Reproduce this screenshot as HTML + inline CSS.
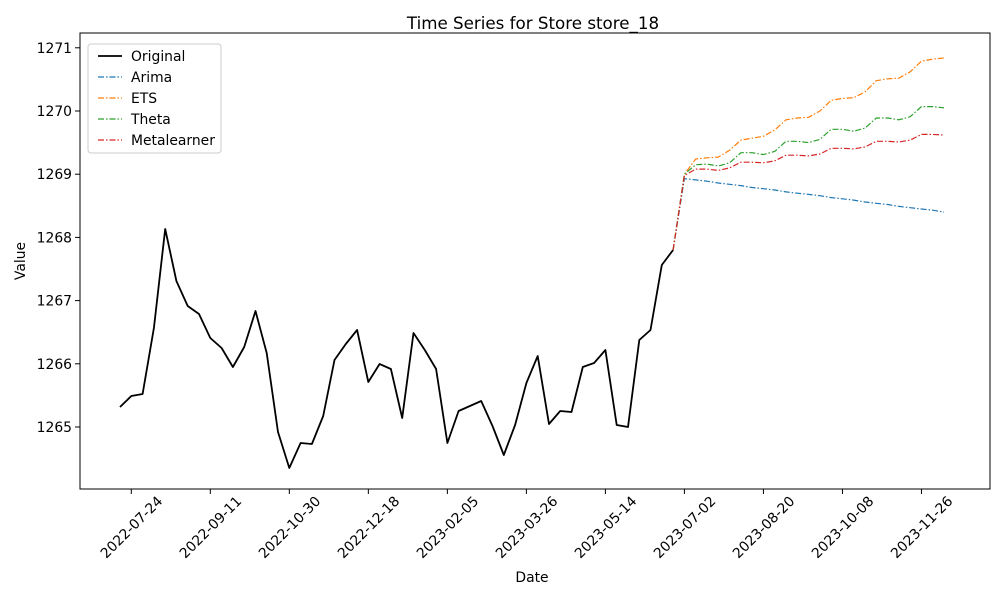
<!DOCTYPE html>
<html><head><meta charset="utf-8"><style>
body{margin:0;background:#fff;font-family:"DejaVu Sans",sans-serif}
svg text{font-family:"DejaVu Sans",sans-serif;fill:#000}
</style></head><body>
<svg id="chart" width="1000" height="600" viewBox="0 0 1000 600">
<rect x="0" y="0" width="1000" height="600" fill="#fff"/>
<text x="533" y="29" font-size="16.7" text-anchor="middle">Time Series for Store store_18</text>
<rect x="80" y="33" width="910" height="456" fill="none" stroke="#000" stroke-width="1"/>
<g id="xaxis"></g><g id="yaxis"></g><g id="series"></g>
<text x="532" y="582" font-size="13.9" text-anchor="middle">Date</text>
<text transform="translate(25,261) rotate(-90)" font-size="13.9" text-anchor="middle">Value</text>
<g>
<rect x="88" y="44" width="133" height="109" rx="3" fill="#fff" stroke="#ccc"/>
<g id="legend-items"></g>
</g>
</svg>
<script>
const originalValues=[];
const originalPx=[407,396,394,328,229,281,306,314,338,348,367,347,311,353,432,468,443,444,416,360,344,330,382,364,369,418,333,350,369,443,411,406,401,426,455,425,383,356,424,411,412,367,363,350,425,427,340,330,265,250];
// values
originalPx.forEach(p=>originalValues.push(+(1265+(427-p)/63.2).toFixed(3)));
const arimaValues=[1268.93,1268.91,1268.89,1268.86,1268.84,1268.82,1268.79,1268.77,1268.75,1268.72,1268.70,1268.68,1268.66,1268.63,1268.61,1268.59,1268.56,1268.54,1268.52,1268.49,1268.47,1268.45,1268.43,1268.40];
const etsValues=[1269.0,1269.24,1269.26,1269.27,1269.38,1269.54,1269.57,1269.6,1269.7,1269.86,1269.89,1269.9,1270.0,1270.17,1270.2,1270.21,1270.3,1270.48,1270.51,1270.52,1270.62,1270.79,1270.82,1270.84];
const thetaValues=[1269.0,1269.15,1269.16,1269.13,1269.18,1269.34,1269.34,1269.31,1269.36,1269.52,1269.52,1269.5,1269.55,1269.71,1269.71,1269.68,1269.73,1269.89,1269.89,1269.86,1269.91,1270.07,1270.07,1270.05];
const metaValues=[1268.98,1269.08,1269.08,1269.06,1269.1,1269.19,1269.19,1269.18,1269.21,1269.3,1269.3,1269.29,1269.32,1269.41,1269.41,1269.4,1269.43,1269.52,1269.52,1269.51,1269.54,1269.63,1269.63,1269.62];
const xTickLabels=["2022-07-24","2022-09-11","2022-10-30","2022-12-18","2023-02-05","2023-03-26","2023-05-14","2023-07-02","2023-08-20","2023-10-08","2023-11-26"];
const yTickValues=[1265,1266,1267,1268,1269,1270,1271];
const startDate=Date.UTC(2022,6,17);
const NS="http://www.w3.org/2000/svg";
function xDay(d){return 120+d*1.6126;}
function xWeek(i){return xDay(i*7);}
function yVal(v){return 427-(v-1265)*63.2;}
function mk(tag,attrs,parent){const e=document.createElementNS(NS,tag);for(const k in attrs)e.setAttribute(k,attrs[k]);parent.appendChild(e);return e;}
const xa=document.getElementById('xaxis'),ya=document.getElementById('yaxis'),sg=document.getElementById('series');
xTickLabels.forEach(l=>{
 const p=l.split('-');const d=(Date.UTC(+p[0],+p[1]-1,+p[2])-startDate)/864e5;const x=xDay(d);
 const t=mk('line',{x1:x,x2:x,y1:489,y2:494,stroke:'#000'},xa);
 
 
 const cy=527;
 const tx=mk('text',{x:x,y:cy+5,'font-size':13.9,'text-anchor':'middle',transform:`rotate(-45 ${x} ${cy})`},xa);
 tx.textContent=l;
 
 
});
yTickValues.forEach(v=>{
 const y=yVal(v);
 const t=mk('line',{x1:75,x2:80,y1:y,y2:y,stroke:'#000'},ya);
 
 
 const tx=mk('text',{x:72,y:y+5,'font-size':13.9,'text-anchor':'end'},ya);
 tx.textContent=v;
 
 
});
function line(pts,color,dash,width,name){
 const e=mk('polyline',{points:pts.map(p=>p[0].toFixed(1)+','+p[1].toFixed(1)).join(' '),fill:'none',stroke:color,'stroke-width':width,'stroke-dasharray':dash,'stroke-linejoin':'round'},sg);
 
 
}
const n=originalValues.length;
line(originalValues.map((v,i)=>[xWeek(i),yVal(v)]),'#000','',1.8,'original-line');
function fc(vals){return [[xWeek(n-1),yVal(originalValues[n-1])]].concat(vals.map((v,i)=>[xWeek(n+i),yVal(v)]));}
const DASH='6,2,1.5,2';
line(fc(arimaValues),'#1f77b4',DASH,1.2,'arima-line');
line(fc(etsValues),'#ff7f0e',DASH,1.2,'ets-line');
line(fc(thetaValues),'#2ca02c',DASH,1.2,'theta-line');
line(fc(metaValues),'#d62728',DASH,1.2,'metalearner-line');
const leg=[["Original","#000",""],["Arima","#1f77b4",DASH],["ETS","#ff7f0e",DASH],["Theta","#2ca02c",DASH],["Metalearner","#d62728",DASH]];
const lg=document.getElementById('legend-items');
leg.forEach((l,i)=>{
 const y=56+i*21;
 const ln=mk('line',{x1:98,x2:122,y1:y,y2:y,stroke:l[1],'stroke-width':i?1.2:1.8,'stroke-dasharray':l[2]},lg);
 
 
 const tx=mk('text',{x:131,y:y+5,'font-size':13.9},lg);
 tx.textContent=l[0];
 
 
});
</script>
</body></html>
